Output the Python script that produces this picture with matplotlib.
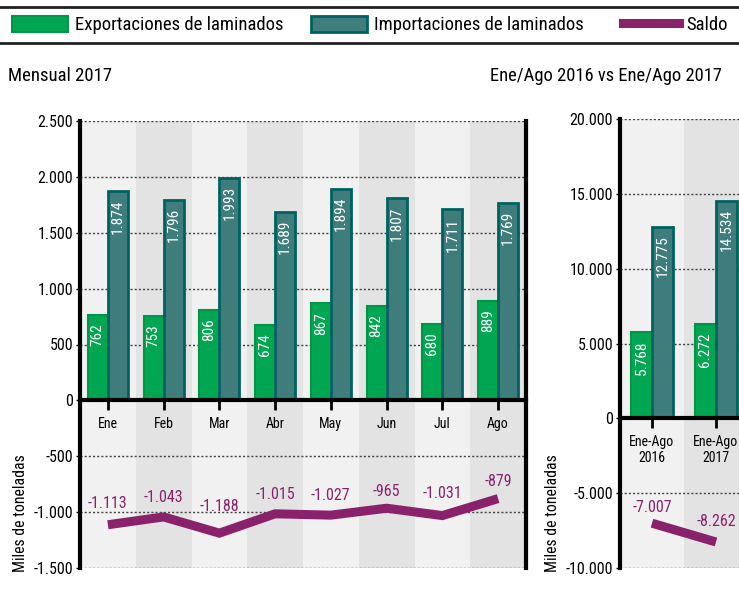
import matplotlib
matplotlib.use('Agg')
import matplotlib.pyplot as plt
from matplotlib.patches import Patch
from matplotlib.lines import Line2D
import numpy as np

plt.rcParams['font.family'] = ['Roboto Condensed', 'DejaVu Sans']

# monthly 2017
months = ['Ene', 'Feb', 'Mar', 'Abr', 'May', 'Jun', 'Jul', 'Ago']
exports = [762, 753, 806, 674, 867, 842, 680, 889]
imports = [1874, 1796, 1993, 1689, 1894, 1807, 1711, 1769]
saldo = [-1113, -1043, -1188, -1015, -1027, -965, -1031, -879]

# Ene/Ago 2016 vs 2017
periods = ['Ene-Ago\n2016', 'Ene-Ago\n2017']
exports_acc = [5768, 6272]
imports_acc = [12775, 14534]
saldo_acc = [-7007, -8262]

legend_labels = ['Exportaciones de laminados', 'Importaciones de laminados', 'Saldo']

GREEN = '#00a651'
GREEN_EDGE = '#00964a'
TEAL = '#3e7d7c'
TEAL_EDGE = '#00625f'
PURPLE = '#8a226b'
LIGHT = '#f1f1f1'
DARK = '#e3e3e3'


def fmt(v):
    return '{:,.0f}'.format(v).replace(',', '.')


def draw_panel(ax, cats, exp, imp, bal, ylim, step, width, bal_offsets):
    n = len(cats)
    x = np.arange(n)
    ax.set_facecolor(LIGHT)
    for i in range(1, n, 2):
        ax.axvspan(i - 0.5, i + 0.5, color=DARK, zorder=0, lw=0)
    ax.set_xlim(-0.5, n - 0.5)
    ax.set_ylim(*ylim)
    ticks = np.arange(ylim[0], ylim[1] + 1, step)
    ax.set_yticks(ticks)
    ax.set_yticklabels([fmt(t) for t in ticks], fontsize=11.5)
    for t in ticks:
        if t != 0:
            ax.axhline(t, color='#444444', lw=1, ls=(0, (1.5, 1.5)), zorder=1)

    b1 = ax.bar(x - width / 2, exp, width, color=GREEN, edgecolor=GREEN_EDGE,
                linewidth=1.5, zorder=2)
    b2 = ax.bar(x + width / 2, imp, width, color=TEAL, edgecolor=TEAL_EDGE,
                linewidth=2, zorder=2)
    for bars, vals in ((b1, exp), (b2, imp)):
        for r, v in zip(bars, vals):
            ax.annotate(fmt(v), (r.get_x() + r.get_width() / 2, v),
                        xytext=(0, -6), textcoords='offset points',
                        rotation=90, ha='center', va='top', color='white',
                        fontsize=11, zorder=4)

    ax.plot(x, bal, color=PURPLE, lw=6.5, solid_capstyle='butt',
            solid_joinstyle='miter', zorder=3)
    for xi, v, off in zip(x, bal, bal_offsets):
        ax.annotate(fmt(v), (xi, v), xytext=(0, off), textcoords='offset points',
                    ha='center', va='center', color=PURPLE, fontsize=11.5, zorder=4)

    ax.set_xticks(x)
    ax.set_xticklabels(cats, fontsize=11, linespacing=0.9)
    ax.spines['bottom'].set_position(('data', 0))
    ax.spines['bottom'].set_linewidth(3)
    ax.spines['bottom'].set_zorder(3)
    ax.spines['left'].set_linewidth(3)
    ax.spines['right'].set_linewidth(3)
    ax.spines['top'].set_visible(False)
    ax.tick_params(axis='x', direction='out', length=7, width=2, pad=5)
    ax.tick_params(axis='y', length=3, width=1, pad=2)
    ax.set_ylabel('Miles de toneladas', fontsize=11.3)


fig = plt.figure(figsize=(7.39, 5.95), dpi=100)

ax1 = fig.add_axes([80 / 739, 27 / 595, 446 / 739, 447 / 595])
draw_panel(ax1, months, exports, imports, saldo, (-1500, 2500), 500, 0.36,
           [15, 14, 19, 14, 14, 12, 16, 12])
ax1.yaxis.set_label_coords(-0.117, 0.123)

ax2 = fig.add_axes([620 / 739, 27 / 595, 128 / 739, 449 / 595])
draw_panel(ax2, periods, exports_acc, imports_acc, saldo_acc, (-10000, 20000), 5000, 0.33,
           [11, 15])
ax2.spines['right'].set_visible(False)
ax2.yaxis.set_label_coords(-0.47, 0.122)

# header lines and legend
fig.add_artist(Line2D([0, 1], [1 - 7 / 595, 1 - 7 / 595], color='#222222', lw=2))
fig.add_artist(Line2D([0, 1], [1 - 43 / 595, 1 - 43 / 595], color='#222222', lw=2))
handles = [Patch(facecolor=GREEN, edgecolor=GREEN_EDGE, lw=1.5),
           Patch(facecolor=TEAL, edgecolor=TEAL_EDGE, lw=2),
           Line2D([], [], color=PURPLE, lw=6.5)]
for h, lab, x0 in zip(handles, legend_labels, [12, 311, 623]):
    fig.legend([h], [lab], loc='center left', bbox_to_anchor=(x0 / 739, 1 - 25 / 595),
               frameon=False, fontsize=13.5, handlelength=3.0, handleheight=0.96,
               handletextpad=0.37, borderaxespad=0, borderpad=0)

fig.text(8 / 739, 1 - 76 / 595, 'Mensual 2017', fontsize=13.5, va='center', ha='left')
fig.text(722 / 739, 1 - 76 / 595, 'Ene/Ago 2016 vs Ene/Ago 2017', fontsize=13.3,
         va='center', ha='right')

fig.savefig('out.png', dpi=100)
